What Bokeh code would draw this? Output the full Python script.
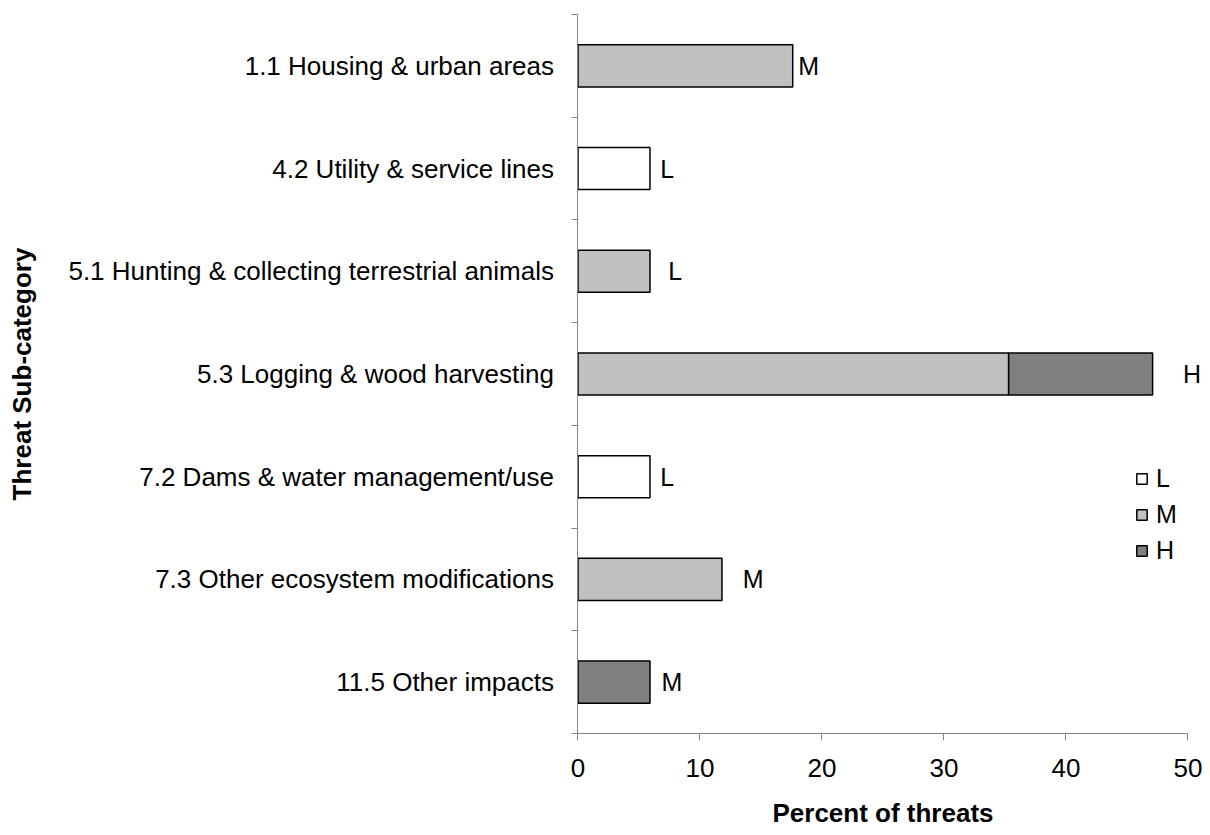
import math
from bokeh.plotting import figure
from bokeh.models import ColumnDataSource, FixedTicker, LabelSet, Label, Legend, LegendItem
from bokeh.core.properties import value
from bokeh.embed import file_html
from bokeh.resources import INLINE

# ---- data ----
categories = [
    "1.1 Housing & urban areas",
    "4.2 Utility & service lines",
    "5.1 Hunting & collecting terrestrial animals",
    "5.3 Logging & wood harvesting",
    "7.2 Dams & water management/use",
    "7.3 Other ecosystem modifications",
    "11.5 Other impacts",
]
low = [0, 5.9, 0, 0, 5.9, 0, 0]
medium = [17.6, 0, 5.9, 35.3, 0, 11.8, 0]
high = [0, 0, 0, 11.8, 0, 0, 5.9]
bar_labels = ["M", "L", "L", "H", "L", "M", "M"]
bar_label_x = [18.05, 6.75, 7.4, 49.6, 6.75, 13.5, 6.85]
series_names = ["L", "M", "H"]
series_colors = ["#FFFFFF", "#C0C0C0", "#808080"]
x_ticks = [0, 10, 20, 30, 40, 50]
x_title = "Percent of threats"
y_title = "Threat Sub-category"

FONT = "Liberation Sans"
n = len(categories)
ypos = [n - 0.5 - i for i in range(n)]  # top-to-bottom order

# the frame covers the whole canvas; axes are pinned at x=0 / y=0
p = figure(width=1202, height=827, x_range=(-47.336, 51.189), y_range=(-0.915, 7.136),
           output_backend="svg", toolbar_location=None, min_border=0)
p.outline_line_color = None
p.xgrid.visible = False
p.ygrid.visible = False
p.background_fill_color = "white"
p.border_fill_color = "white"

# stacked bars (explicit left/right, skipping zero segments)
cum = [0.0] * n
items = []
for name, vals, col in zip(series_names, [low, medium, high], series_colors):
    left, right, yy = [], [], []
    for i, v in enumerate(vals):
        if v > 0:
            left.append(cum[i]); right.append(cum[i] + v); yy.append(ypos[i])
        cum[i] += v
    src = ColumnDataSource(dict(y=yy, left=left, right=right))
    r = p.hbar(y="y", left="left", right="right", height=0.41, source=src,
               fill_color=col, line_color="black", line_width=1.5)
    items.append(LegendItem(label=name, renderers=[r]))

# bar-end labels
lab_src = ColumnDataSource(dict(x=bar_label_x, y=ypos, text=bar_labels))
p.add_layout(LabelSet(x="x", y="y", text="text", source=lab_src,
                      text_align="left", text_baseline="middle",
                      text_font=value(FONT), text_font_size=value("25px"),
                      text_color="black"))

# legend
legend = Legend(items=items, location=(1135, 262), orientation="vertical",
                glyph_width=13, glyph_height=13, label_standoff=8,
                spacing=7, padding=0, margin=0,
                label_text_font=FONT, label_text_font_size="25px",
                label_text_color="black",
                border_line_color=None, background_fill_alpha=0)
p.add_layout(legend)

AX = "#868686"
# x axis (drawn at y = 0)
xa = p.xaxis[0]
xa.fixed_location = 0
xa.bounds = (0, 50)
xa.ticker = FixedTicker(ticks=x_ticks, minor_ticks=[])
xa.axis_line_color = AX
xa.major_tick_line_color = AX
xa.major_tick_out = 7
xa.major_tick_in = 0
xa.minor_tick_line_color = None
xa.major_label_text_font = FONT
xa.major_label_text_font_size = "26px"
xa.major_label_text_color = "black"
xa.major_label_standoff = 18

# y axis (drawn at x = 0)
ya = p.yaxis[0]
ya.fixed_location = 0
ya.bounds = (0, n)
ya.ticker = FixedTicker(ticks=ypos, minor_ticks=list(range(n + 1)))
ya.major_label_overrides = {y: c for y, c in zip(ypos, categories)}
ya.axis_line_color = AX
ya.major_tick_line_color = None
ya.major_tick_out = 0
ya.major_tick_in = 0
ya.minor_tick_line_color = AX
ya.minor_tick_out = 6
ya.minor_tick_in = 0
ya.major_label_text_font = FONT
ya.major_label_text_font_size = "26px"
ya.major_label_text_color = "black"
ya.major_label_standoff = 18

# axis titles
p.add_layout(Label(x=25, y=15, x_units="data", y_units="screen", text=x_title,
                   text_align="center", text_baseline="middle",
                   text_font=FONT, text_font_size="26px",
                   text_font_style="bold", text_color="black"))
p.add_layout(Label(x=21, y=n / 2, x_units="screen", y_units="data", text=y_title,
                   angle=math.pi / 2, text_align="center", text_baseline="middle",
                   text_font=FONT, text_font_size="26px",
                   text_font_style="bold", text_color="black"))

open("out.html", "w").write(file_html(p, INLINE))
